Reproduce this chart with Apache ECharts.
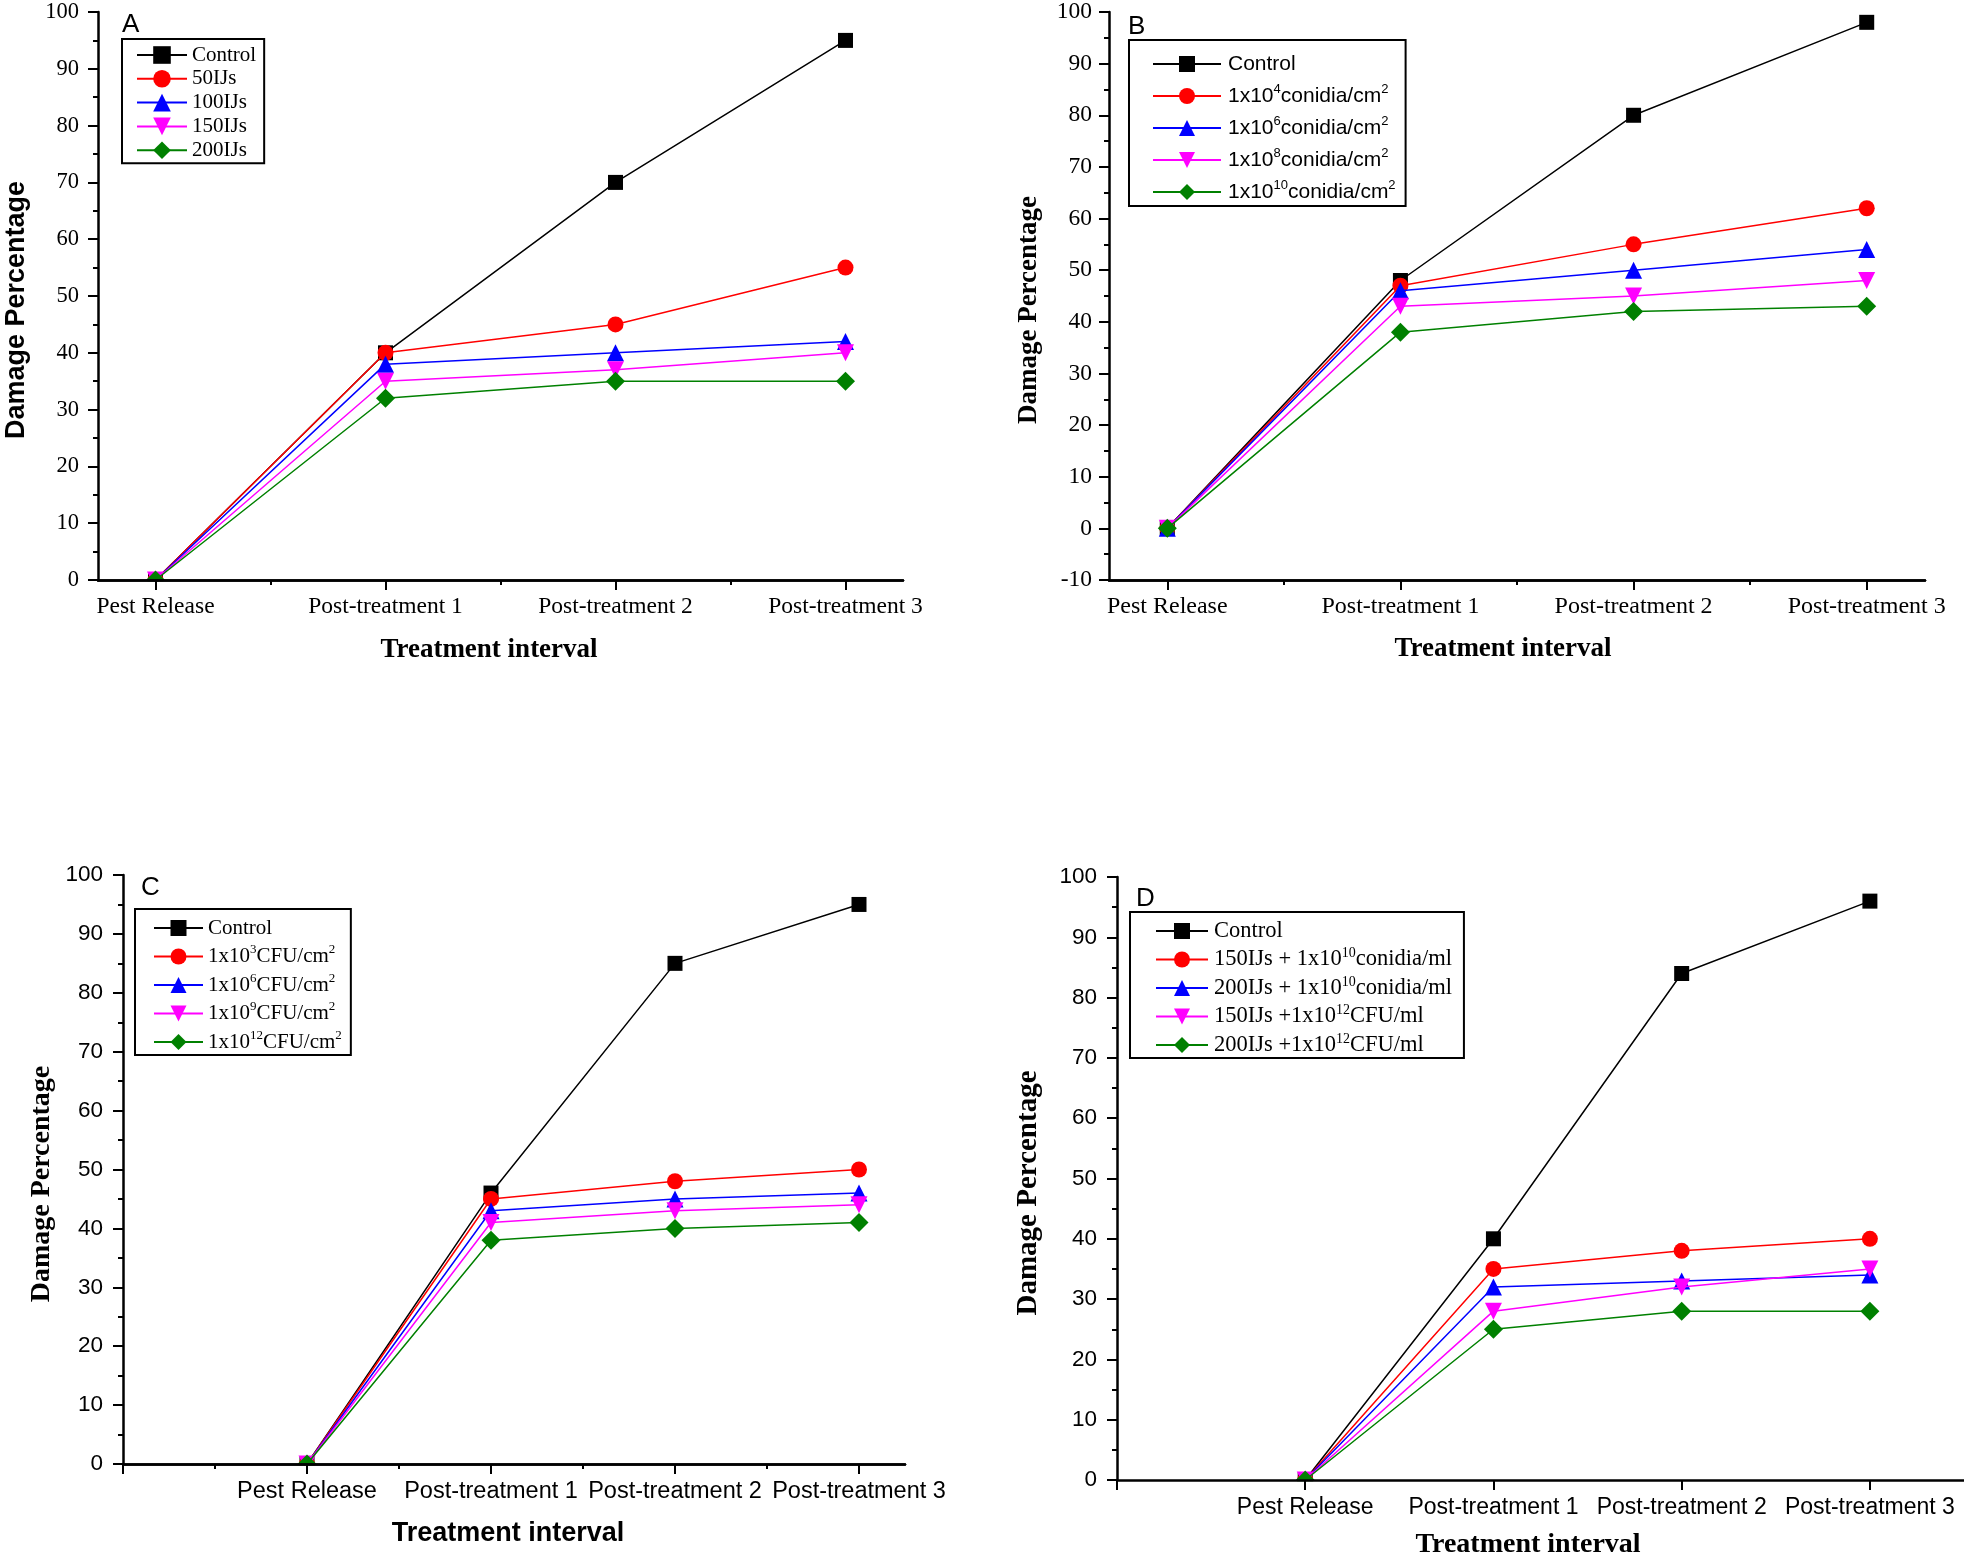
<!DOCTYPE html>
<html><head><meta charset="utf-8">
<script src="https://cdn.jsdelivr.net/npm/echarts@6/dist/echarts.min.js"></script>
<style>html,body{margin:0;padding:0;background:#fff}#chart{width:1964px;height:1560px}</style>
</head><body><div id="chart"></div>
<script>
// ---------- data ----------
const categories = ['Pest Release', 'Post-treatment 1', 'Post-treatment 2', 'Post-treatment 3'];
const catPos = [1, 2, 3, 4];
const minorPosAB = [1.5, 2.5, 3.5];
const majorPosCD = [0, 1, 2, 3, 4];
const minorPosC = [0.5, 1.5, 2.5, 3.5];

// Panel A
const namesA = ['Control', '50IJs', '100IJs', '150IJs', '200IJs'];
const controlA = [0, 40, 70, 95];
const ij50A = [0, 40, 45, 55];
const ij100A = [0, 38, 40, 42];
const ij150A = [0, 35, 37, 40];
const ij200A = [0, 32, 35, 35];

// Panel B
const namesB = ['Control', '1x10^4conidia/cm^2', '1x10^6conidia/cm^2', '1x10^8conidia/cm^2', '1x10^10conidia/cm^2'];
const controlB = [0, 48, 80, 98];
const con4B = [0, 47, 55, 62];
const con6B = [0, 46, 50, 54];
const con8B = [0, 43, 45, 48];
const con10B = [0, 38, 42, 43];

// Panel C
const namesC = ['Control', '1x10^3CFU/cm^2', '1x10^6CFU/cm^2', '1x10^9CFU/cm^2', '1x10^12CFU/cm^2'];
const controlC = [0, 46, 85, 95];
const cfu3C = [0, 45, 48, 50];
const cfu6C = [0, 43, 45, 46];
const cfu9C = [0, 41, 43, 44];
const cfu12C = [0, 38, 40, 41];

// Panel D
const namesD = ['Control', '150IJs + 1x10^10conidia/ml', '200IJs + 1x10^10conidia/ml', '150IJs +1x10^12CFU/ml', '200IJs +1x10^12CFU/ml'];
const controlD = [0, 40, 84, 96];
const mix1D = [0, 35, 38, 40];
const mix2D = [0, 32, 33, 34];
const mix3D = [0, 28, 32, 35];
const mix4D = [0, 25, 28, 28];

// ---------- styles ----------
const SERIF = 'Liberation Serif';
const SANS = 'Liberation Sans';
const colors = ['#000000', '#ff0000', '#0000ff', '#ff00ff', '#008000'];
const symbols = ['rect', 'circle', 'triangle', 'path://M0,0L10,0L5,9Z', 'diamond'];
const symSizes = [15, 16, 17, 17, 19];

const panels = [
  { names: namesA, values: [controlA, ij50A, ij100A, ij150A, ij200A],
    grid: { left: 98, top: 12, width: 805, height: 568 }, mask: true,
    xMin: 0.75, xMax: 4.25, major: catPos, minor: minorPosAB, yMin: 0, yMax: 100,
    tickFont: SERIF, yLabelSize: 22.5, xLabelSize: 23.5, yMargin: 19, xMargin: 15,
    legend: { left: 122, top: 39, itemWidth: 50, itemHeight: 22, lineHeight: 22, itemGap: 1.8, textGap: 5,
              padding: [5, 8, 2, 14], font: SERIF, size: 21 } },
  { names: namesB, values: [controlB, con4B, con6B, con8B, con10B],
    grid: { left: 1109, top: 12, width: 816, height: 568 }, mask: false,
    xMin: 0.75, xMax: 4.25, major: catPos, minor: minorPosAB, yMin: -10, yMax: 100,
    tickFont: SERIF, yLabelSize: 23.5, xLabelSize: 24, yMargin: 17, xMargin: 15,
    legend: { left: 1129, top: 40, itemWidth: 68, itemHeight: 20, lineHeight: 26, itemGap: 6, textGap: 7,
              padding: [11, 10, 1, 23], font: SANS, size: 21 } },
  { names: namesC, values: [controlC, cfu3C, cfu6C, cfu9C, cfu12C],
    grid: { left: 123, top: 875, width: 782, height: 589 }, mask: true,
    xMin: 0, xMax: 4.25, major: majorPosCD, minor: minorPosC, yMin: 0, yMax: 100,
    tickFont: SANS, yLabelSize: 22.5, xLabelSize: 23.5, yMargin: 20, xMargin: 16,
    legend: { left: 135, top: 909, itemWidth: 49, itemHeight: 20, lineHeight: 26, itemGap: 2.5, textGap: 5,
              padding: [6, 9, 0, 18], font: SERIF, size: 21 } },
  { names: namesD, values: [controlD, mix1D, mix2D, mix3D, mix4D],
    grid: { left: 1117, top: 877, width: 847, height: 603 }, mask: true,
    xMin: 0, xMax: 4.5, major: majorPosCD, minor: null, yMin: 0, yMax: 100,
    tickFont: SANS, yLabelSize: 22.5, xLabelSize: 23, yMargin: 20, xMargin: 16,
    legend: { left: 1130, top: 912, itemWidth: 52, itemHeight: 20, lineHeight: 26, itemGap: 2.5, textGap: 6,
              padding: [6, 12, 0, 25], font: SERIF, size: 22.5 } }
];

const grids = [], xAxes = [], yAxes = [], series = [], legends = [], masks = [];
const axisLineStyle = { color: '#000', width: 2.5 };
const tickLineStyle = { color: '#000', width: 2 };

panels.forEach((p, gi) => {
  grids.push(Object.assign({ containLabel: false }, p.grid));
  const mainX = xAxes.length;
  xAxes.push({
    gridIndex: gi, type: 'value', min: p.xMin, max: p.xMax, position: 'bottom', z: 10,
    axisLine: { show: true, onZero: false, lineStyle: axisLineStyle },
    axisTick: { show: true, customValues: p.major, length: 10, lineStyle: tickLineStyle },
    axisLabel: { show: true, customValues: catPos, margin: p.xMargin, color: '#000',
                 fontFamily: p.tickFont, fontSize: p.xLabelSize,
                 formatter: v => categories[Math.round(v) - 1] || '' },
    splitLine: { show: false }
  });
  if (p.minor) {
    xAxes.push({
      gridIndex: gi, type: 'value', min: p.xMin, max: p.xMax, position: 'bottom', z: 10,
      axisLine: { show: true, onZero: false, lineStyle: axisLineStyle },
      axisTick: { show: true, customValues: p.minor, length: 5, lineStyle: tickLineStyle },
      axisLabel: { show: false },
      splitLine: { show: false }
    });
  }
  yAxes.push({
    gridIndex: gi, type: 'value', min: p.yMin, max: p.yMax, interval: 10, z: 10,
    axisLine: { show: true, onZero: false, lineStyle: axisLineStyle },
    axisTick: { show: true, length: 10, lineStyle: tickLineStyle },
    minorTick: { show: true, splitNumber: 2, length: 5, lineStyle: tickLineStyle },
    axisLabel: { margin: p.yMargin, color: '#000', fontFamily: p.tickFont, fontSize: p.yLabelSize },
    splitLine: { show: false }
  });
  p.names.forEach((nm, si) => {
    series.push({
      type: 'line', name: nm, xAxisIndex: mainX, yAxisIndex: gi,
      data: catPos.map((x, i) => [x, p.values[si][i]]),
      symbol: symbols[si], symbolSize: symSizes[si], showSymbol: true,
      lineStyle: { color: colors[si], width: 1.5 },
      itemStyle: { color: colors[si] },
      z: 2 + si
    });
  });
  // white mask below the x axis line so markers sitting on the axis are cut like in the original
  if (p.mask) {
    const g = p.grid;
    masks.push({ type: 'rect', z: 8, silent: true,
      shape: { x: g.left + 2, y: g.top + g.height + 1.3, width: g.width - 2, height: 11 },
      style: { fill: '#fff' } });
  }
  const L = p.legend;
  legends.push({
    data: p.names, orient: 'vertical', left: L.left, top: L.top,
    itemWidth: L.itemWidth, itemHeight: L.itemHeight, itemGap: L.itemGap,
    padding: L.padding, borderColor: '#000', borderWidth: 2, backgroundColor: '#fff',
    selectedMode: false,
    formatter: n => n.replace(/\^(\d+)/g, '{sup|$1}'),
    textStyle: {
      color: '#000', fontFamily: L.font, fontSize: L.size, lineHeight: L.lineHeight, padding: [0, 0, 0, L.textGap - 5],
      rich: { sup: { fontFamily: L.font, fontSize: Math.round(L.size * 0.6), lineHeight: 11, verticalAlign: 'top', color: '#000' } }
    }
  });
});

function txt(x, y, text, font, rot, align, valign) {
  return { type: 'text', x: x, y: y, rotation: rot || 0, z: 100,
           style: { text: text, font: font, fill: '#000', textAlign: align || 'center', textVerticalAlign: valign || 'middle' } };
}
const graphics = masks.concat([
  txt(122, 12, 'A', '26px "Liberation Sans"', 0, 'left', 'top'),
  txt(1128, 14, 'B', '26px "Liberation Sans"', 0, 'left', 'top'),
  txt(141, 875, 'C', '26px "Liberation Sans"', 0, 'left', 'top'),
  txt(1136, 886, 'D', '26px "Liberation Sans"', 0, 'left', 'top'),
  txt(17, 310, 'Damage Percentage', 'bold 27px "Liberation Sans"', Math.PI / 2),
  txt(1029, 310, 'Damage Percentage', 'bold 27px "Liberation Serif"', Math.PI / 2),
  txt(42, 1184, 'Damage Percentage', 'bold 28px "Liberation Serif"', Math.PI / 2),
  txt(1029, 1193, 'Damage Percentage', 'bold 29px "Liberation Serif"', Math.PI / 2),
  txt(489, 650, 'Treatment interval', 'bold 27px "Liberation Serif"'),
  txt(1503, 649, 'Treatment interval', 'bold 27px "Liberation Serif"'),
  txt(508, 1534, 'Treatment interval', 'bold 27px "Liberation Sans"'),
  txt(1528, 1545, 'Treatment interval', 'bold 28px "Liberation Serif"')
]);

const chart = echarts.init(document.getElementById('chart'), null, { renderer: 'canvas' });
chart.setOption({
  animation: false,
  backgroundColor: '#fff',
  grid: grids, xAxis: xAxes, yAxis: yAxes, series: series, legend: legends,
  graphic: graphics
});
</script></body></html>
